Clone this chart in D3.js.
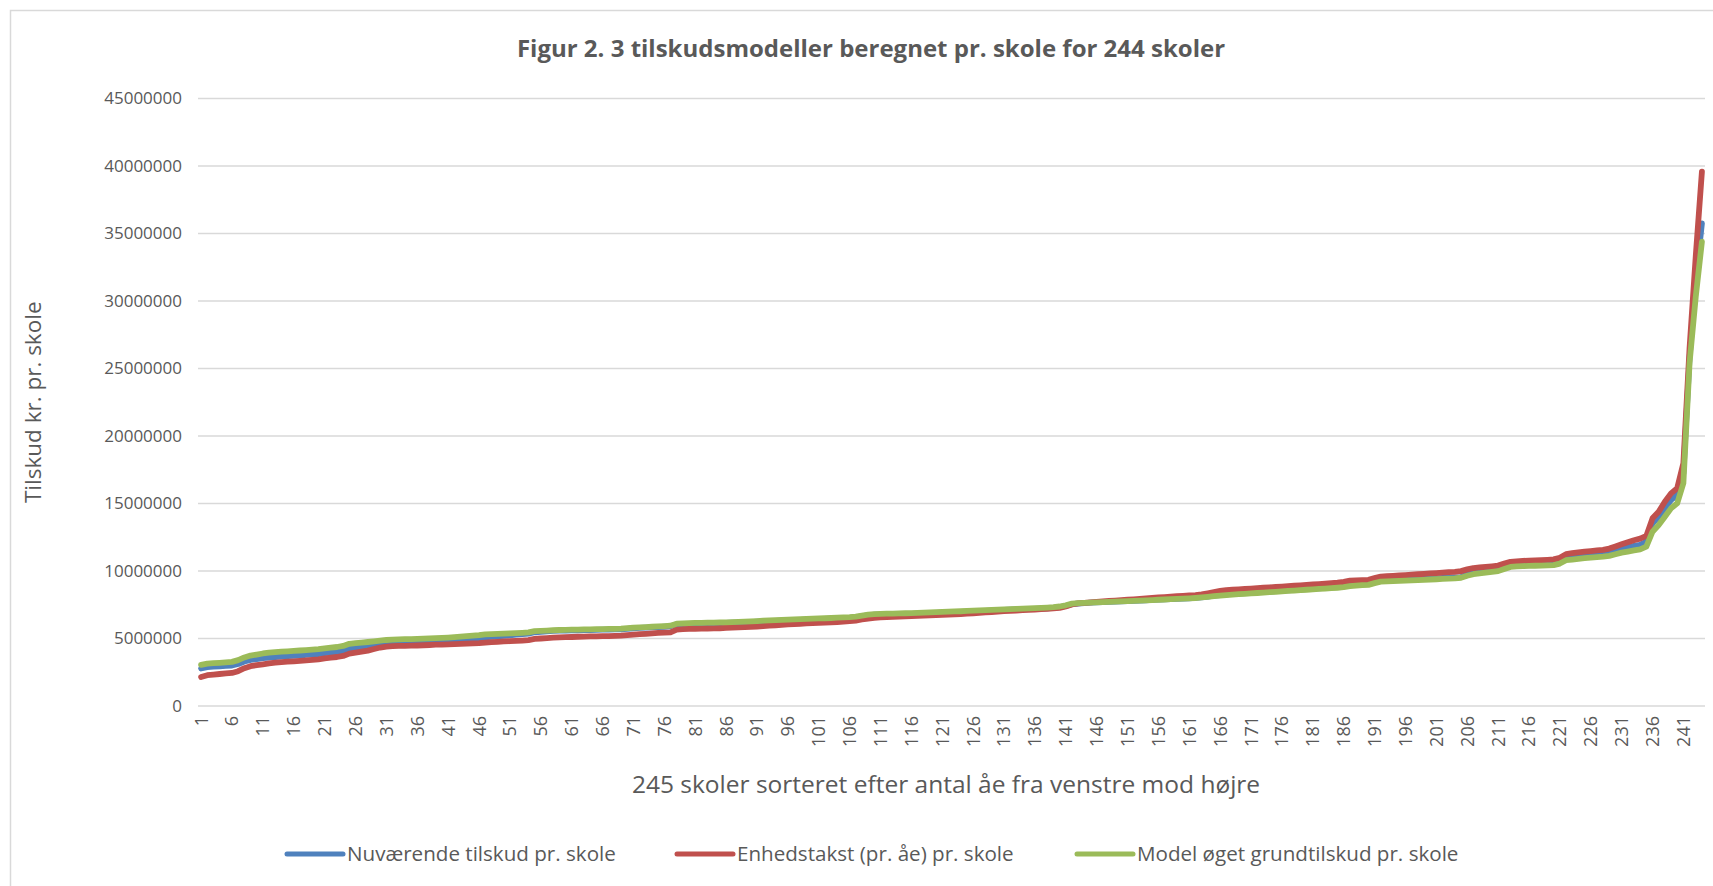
<!DOCTYPE html>
<html>
<head>
<meta charset="utf-8">
<script src="https://cdn.jsdelivr.net/npm/d3@7"></script>
<style>
  body { margin: 0; background: #fff; }
  svg { display: block; font-family: 'Open Sans', sans-serif; }
</style>
</head>
<body>
<svg id="chart" width="1713" height="886"></svg>
<script>
const chart_title = 'Figur 2. 3 tilskudsmodeller beregnet pr. skole for 244 skoler';
const x_title = '245 skoler sorteret efter antal åe fra venstre mod højre';
const y_title = 'Tilskud kr. pr. skole';
const series_names = [
  'Nuværende tilskud pr. skole',
  'Enhedstakst (pr. åe) pr. skole',
  'Model øget grundtilskud pr. skole',
];
const series_colors = ['#4f81bd', '#c0504d', '#9bbb59'];
const y_ticks = [0, 5000000, 10000000, 15000000, 20000000, 25000000, 30000000, 35000000, 40000000, 45000000];

// Nuværende tilskud (blå)
const nuvaerende = [
  2780000, 2880000, 2910000, 2940000, 2970000, 3000000, 3110000, 3300000, 3420000, 3480000,
  3540000, 3590000, 3630000, 3660000, 3690000, 3720000, 3740000, 3780000, 3810000, 3850000,
  3910000, 3960000, 4000000, 4080000, 4250000, 4300000, 4370000, 4450000, 4560000, 4640000,
  4690000, 4710000, 4720000, 4730000, 4740000, 4750000, 4760000, 4770000, 4790000, 4810000,
  4830000, 4850000, 4870000, 4900000, 4940000, 4990000, 5080000, 5120000, 5160000, 5200000,
  5240000, 5280000, 5320000, 5360000, 5460000, 5500000, 5530000, 5560000, 5580000, 5590000,
  5600000, 5610000, 5620000, 5630000, 5640000, 5650000, 5660000, 5670000, 5680000, 5720000,
  5760000, 5780000, 5800000, 5820000, 5850000, 5870000, 5900000, 6050000, 6070000, 6090000,
  6100000, 6110000, 6120000, 6130000, 6140000, 6150000, 6170000, 6180000, 6200000, 6220000,
  6240000, 6270000, 6290000, 6310000, 6330000, 6350000, 6370000, 6380000, 6400000, 6420000,
  6440000, 6450000, 6470000, 6490000, 6510000, 6530000, 6570000, 6650000, 6720000, 6760000,
  6780000, 6790000, 6800000, 6810000, 6820000, 6830000, 6850000, 6870000, 6880000, 6900000,
  6920000, 6940000, 6960000, 6970000, 6990000, 7010000, 7030000, 7050000, 7070000, 7090000,
  7110000, 7130000, 7150000, 7160000, 7180000, 7200000, 7220000, 7240000, 7270000, 7320000,
  7410000, 7540000, 7590000, 7620000, 7650000, 7670000, 7690000, 7710000, 7730000, 7750000,
  7770000, 7790000, 7810000, 7830000, 7860000, 7880000, 7900000, 7920000, 7940000, 7960000,
  7980000, 8010000, 8050000, 8110000, 8170000, 8220000, 8270000, 8300000, 8330000, 8360000,
  8390000, 8420000, 8450000, 8480000, 8510000, 8540000, 8570000, 8600000, 8630000, 8660000,
  8690000, 8720000, 8750000, 8780000, 8810000, 8860000, 8940000, 8980000, 9010000, 9030000,
  9160000, 9270000, 9300000, 9320000, 9340000, 9360000, 9380000, 9400000, 9420000, 9440000,
  9460000, 9480000, 9500000, 9520000, 9550000, 9760000, 9900000, 9980000, 10030000, 10080000,
  10140000, 10320000, 10480000, 10520000, 10550000, 10570000, 10580000, 10590000, 10610000, 10630000,
  10750000, 11010000, 11070000, 11120000, 11170000, 11220000, 11260000, 11300000, 11380000, 11520000,
  11660000, 11760000, 11860000, 11940000, 12170000, 13530000, 14020000, 14640000, 15260000, 15630000,
  17240000, 25800000, 31500000, 35750000,
];

// Enhedstakst pr. åe (rød)
const enhedstakst = [
  2150000, 2280000, 2330000, 2370000, 2410000, 2450000, 2580000, 2800000, 2950000, 3030000,
  3090000, 3160000, 3210000, 3250000, 3280000, 3310000, 3340000, 3380000, 3420000, 3460000,
  3530000, 3580000, 3630000, 3710000, 3880000, 3950000, 4020000, 4100000, 4220000, 4330000,
  4400000, 4430000, 4450000, 4460000, 4470000, 4480000, 4500000, 4520000, 4540000, 4550000,
  4570000, 4580000, 4600000, 4620000, 4640000, 4660000, 4700000, 4730000, 4750000, 4780000,
  4800000, 4820000, 4850000, 4880000, 4970000, 5000000, 5030000, 5060000, 5090000, 5100000,
  5110000, 5130000, 5140000, 5150000, 5160000, 5170000, 5180000, 5190000, 5210000, 5250000,
  5290000, 5320000, 5350000, 5380000, 5410000, 5430000, 5460000, 5660000, 5690000, 5710000,
  5720000, 5730000, 5740000, 5750000, 5760000, 5780000, 5800000, 5820000, 5840000, 5860000,
  5890000, 5920000, 5950000, 5980000, 6010000, 6040000, 6070000, 6090000, 6120000, 6140000,
  6160000, 6180000, 6200000, 6220000, 6250000, 6280000, 6330000, 6410000, 6480000, 6530000,
  6560000, 6580000, 6600000, 6620000, 6640000, 6660000, 6680000, 6700000, 6720000, 6730000,
  6750000, 6770000, 6790000, 6810000, 6840000, 6870000, 6900000, 6930000, 6960000, 6990000,
  7020000, 7050000, 7070000, 7100000, 7120000, 7140000, 7170000, 7200000, 7230000, 7270000,
  7380000, 7520000, 7600000, 7640000, 7680000, 7720000, 7750000, 7780000, 7810000, 7840000,
  7870000, 7900000, 7930000, 7970000, 8010000, 8040000, 8070000, 8100000, 8130000, 8160000,
  8190000, 8220000, 8270000, 8350000, 8440000, 8520000, 8580000, 8610000, 8640000, 8670000,
  8700000, 8730000, 8760000, 8790000, 8820000, 8850000, 8880000, 8910000, 8940000, 8970000,
  9000000, 9030000, 9060000, 9100000, 9140000, 9200000, 9280000, 9310000, 9330000, 9350000,
  9470000, 9580000, 9610000, 9640000, 9670000, 9700000, 9730000, 9760000, 9790000, 9820000,
  9850000, 9880000, 9910000, 9940000, 9990000, 10120000, 10220000, 10270000, 10310000, 10350000,
  10400000, 10550000, 10680000, 10720000, 10750000, 10770000, 10790000, 10810000, 10830000, 10860000,
  10980000, 11250000, 11320000, 11380000, 11440000, 11480000, 11520000, 11560000, 11660000, 11820000,
  11980000, 12130000, 12280000, 12400000, 12600000, 13900000, 14390000, 15130000, 15750000, 16130000,
  17980000, 26500000, 33300000, 39580000,
];

// Model øget grundtilskud (grøn)
const grundtilskud = [
  3050000, 3140000, 3170000, 3200000, 3230000, 3270000, 3400000, 3600000, 3740000, 3810000,
  3890000, 3950000, 3990000, 4020000, 4050000, 4080000, 4110000, 4140000, 4180000, 4210000,
  4270000, 4320000, 4370000, 4450000, 4610000, 4660000, 4700000, 4740000, 4790000, 4850000,
  4890000, 4910000, 4930000, 4950000, 4960000, 4970000, 4990000, 5010000, 5030000, 5050000,
  5070000, 5100000, 5140000, 5180000, 5210000, 5250000, 5310000, 5330000, 5340000, 5360000,
  5380000, 5400000, 5420000, 5450000, 5540000, 5570000, 5590000, 5610000, 5630000, 5640000,
  5650000, 5660000, 5670000, 5680000, 5690000, 5700000, 5710000, 5720000, 5730000, 5770000,
  5810000, 5830000, 5850000, 5870000, 5900000, 5920000, 5950000, 6100000, 6120000, 6140000,
  6150000, 6160000, 6170000, 6180000, 6190000, 6200000, 6220000, 6230000, 6250000, 6270000,
  6290000, 6320000, 6340000, 6360000, 6380000, 6400000, 6420000, 6430000, 6450000, 6470000,
  6490000, 6500000, 6520000, 6540000, 6560000, 6580000, 6620000, 6700000, 6770000, 6810000,
  6830000, 6840000, 6850000, 6860000, 6870000, 6880000, 6900000, 6920000, 6930000, 6950000,
  6970000, 6990000, 7010000, 7020000, 7040000, 7060000, 7080000, 7100000, 7120000, 7140000,
  7160000, 7180000, 7200000, 7210000, 7230000, 7250000, 7270000, 7290000, 7320000, 7370000,
  7460000, 7580000, 7620000, 7640000, 7660000, 7680000, 7690000, 7710000, 7730000, 7750000,
  7770000, 7790000, 7810000, 7830000, 7850000, 7870000, 7890000, 7910000, 7930000, 7950000,
  7970000, 8000000, 8040000, 8090000, 8140000, 8180000, 8220000, 8250000, 8280000, 8310000,
  8340000, 8370000, 8400000, 8430000, 8460000, 8490000, 8520000, 8550000, 8580000, 8610000,
  8640000, 8670000, 8700000, 8730000, 8760000, 8800000, 8880000, 8920000, 8950000, 8970000,
  9100000, 9210000, 9230000, 9250000, 9270000, 9290000, 9310000, 9330000, 9350000, 9370000,
  9390000, 9410000, 9430000, 9450000, 9500000, 9650000, 9760000, 9830000, 9880000, 9930000,
  9990000, 10150000, 10300000, 10340000, 10360000, 10380000, 10390000, 10400000, 10420000, 10440000,
  10550000, 10800000, 10850000, 10900000, 10950000, 10990000, 11030000, 11060000, 11120000, 11240000,
  11360000, 11440000, 11520000, 11600000, 11800000, 12910000, 13410000, 14020000, 14640000, 15010000,
  16500000, 25400000, 30300000, 34390000,
];

const schools = nuvaerende.map((d, i) => i + 1);
const all_series = [nuvaerende, enhedstakst, grundtilskud];

const text_color = '#595959';
const grid_color = '#d9d9d9';
const plot = { left: 198, right: 1705, top: 98.5, bottom: 706 };

const svg = d3.select('#chart');

// chart area border
svg.append('rect')
  .attr('x', 10.5)
  .attr('y', 10.5)
  .attr('width', 1760)
  .attr('height', 920)
  .attr('fill', 'none')
  .attr('stroke', grid_color)
  .attr('stroke-width', 1.5);

const x = d3.scaleBand()
  .domain(schools)
  .range([plot.left, plot.right]);

const y = d3.scaleLinear()
  .domain([0, 45000000])
  .range([plot.bottom, plot.top]);

const x_pos = d => x(d) + x.bandwidth() / 2;

// gridlines
svg.append('g')
  .selectAll('line')
  .data(y_ticks)
  .join('line')
  .attr('x1', plot.left)
  .attr('x2', plot.right)
  .attr('y1', d => y(d))
  .attr('y2', d => y(d))
  .attr('stroke', grid_color)
  .attr('stroke-width', 1.5);

// y axis labels
const y_axis = svg.append('g')
  .attr('transform', `translate(${plot.left},0)`)
  .call(d3.axisLeft(y).tickValues(y_ticks).tickSize(0).tickPadding(16).tickFormat(d3.format('d')));
y_axis.select('.domain').remove();
y_axis.selectAll('text')
  .attr('fill', text_color)
  .style('font-size', '17px')
  .style('font-family', "'Open Sans', sans-serif");

// x axis labels, rotated
const x_axis = svg.append('g')
  .attr('transform', `translate(0,${plot.bottom})`)
  .call(d3.axisBottom(x).tickValues(schools.filter((d, i) => i % 5 === 0)).tickSize(0));
x_axis.select('.domain').remove();
x_axis.selectAll('text')
  .attr('transform', 'rotate(-90)')
  .attr('text-anchor', 'end')
  .attr('x', -10)
  .attr('y', 0)
  .attr('dy', '0.36em')
  .attr('fill', text_color)
  .style('font-size', '18px')
  .style('font-family', "'Open Sans', sans-serif");

// lines
const line = d3.line()
  .x((d, i) => x_pos(schools[i]))
  .y(d => y(d));

svg.append('g')
  .selectAll('path')
  .data(all_series)
  .join('path')
  .attr('d', line)
  .attr('fill', 'none')
  .attr('stroke', (d, i) => series_colors[i])
  .attr('stroke-width', 5.8)
  .attr('stroke-linejoin', 'round')
  .attr('stroke-linecap', 'round');

// titles
svg.append('text')
  .attr('x', 871)
  .attr('y', 57)
  .attr('text-anchor', 'middle')
  .attr('fill', text_color)
  .style('font-size', '24px')
  .style('font-weight', 'bold')
  .text(chart_title);

svg.append('text')
  .attr('x', 946)
  .attr('y', 784)
  .attr('dy', '0.35em')
  .attr('text-anchor', 'middle')
  .attr('fill', text_color)
  .style('font-size', '24.5px')
  .text(x_title);

svg.append('text')
  .attr('transform', `translate(33,${(plot.top + plot.bottom) / 2}) rotate(-90)`)
  .attr('dy', '0.35em')
  .attr('text-anchor', 'middle')
  .attr('fill', text_color)
  .style('font-size', '22.5px')
  .text(y_title);

// legend
const legend_x = [287, 677, 1077];
const legend = svg.append('g')
  .selectAll('g')
  .data(series_names)
  .join('g')
  .attr('transform', (d, i) => `translate(${legend_x[i]},854)`);

legend.append('line')
  .attr('x1', 0)
  .attr('x2', 56)
  .attr('stroke', (d, i) => series_colors[i])
  .attr('stroke-width', 5)
  .attr('stroke-linecap', 'round');

legend.append('text')
  .attr('x', 60)
  .attr('dy', '0.35em')
  .attr('fill', text_color)
  .style('font-size', '20.6px')
  .text(d => d);
</script>
</body>
</html>
